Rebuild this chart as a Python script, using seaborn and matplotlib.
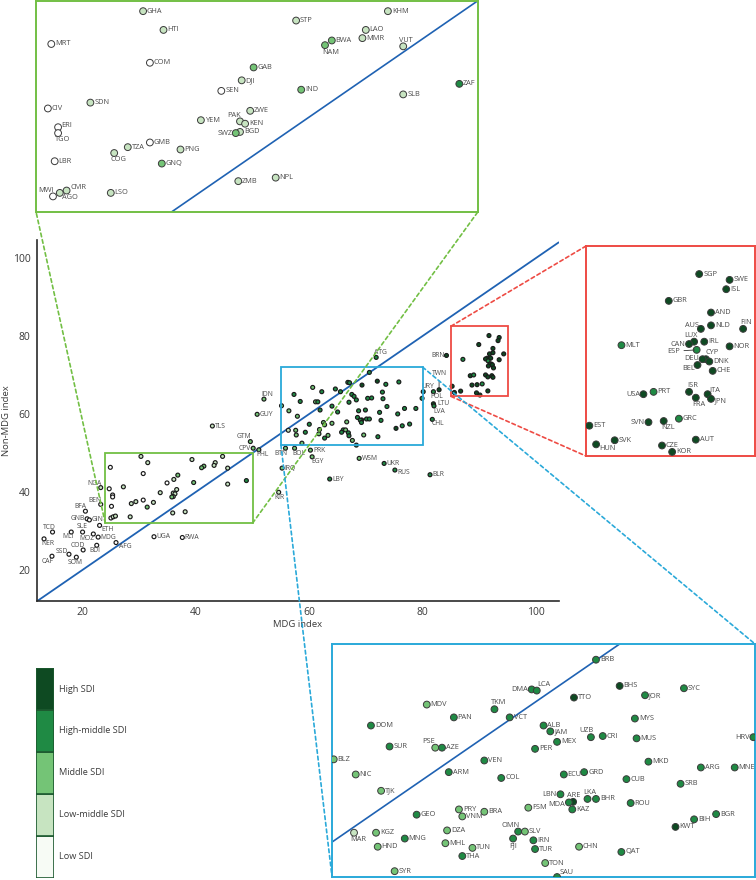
import matplotlib
matplotlib.use("Agg")
import matplotlib.pyplot as plt
import pandas as pd
import seaborn as sns
from matplotlib.patches import ConnectionPatch, Rectangle

# SDI quintiles, 0 = low ... 4 = high
sdi_levels = ["Low SDI", "Low-middle SDI", "Middle SDI", "High-middle SDI", "High SDI"]
sdi_colors = ["#ffffff", "#c7e4c1", "#74c476", "#1f8a44", "#0e4a22"]
legend_colors = ["#f7fbf5", "#c7e4c1", "#74c476", "#1f8a44", "#0e4a22"]

# countries zoomed in the green (top left) panel
green_codes = ["GHA", "HTI", "MRT", "COM", "STP", "LAO", "MMR", "BWA", "NAM", "GAB",
               "DJI", "SEN", "IND", "CIV", "SDN", "ZWE", "YEM", "PAK", "KEN", "BGD",
               "SWZ", "ERI", "TGO", "LBR", "TZA", "GMB", "COG", "PNG", "GNQ", "ZMB",
               "NPL", "MWI", "AGO", "CMR", "LSO", "KHM", "VUT", "ZAF", "SLB"]
green_mdg = [30.3, 31.5, 24.9, 30.7, 39.3, 43.4, 43.2, 41.4, 41.0, 36.8,
             36.1, 34.9, 39.6, 24.7, 27.2, 36.6, 33.7, 36.0, 36.3, 36.0,
             35.75, 25.3, 25.3, 25.1, 29.4, 30.7, 28.6, 32.5, 31.4, 35.9,
             38.1, 25.0, 25.4, 25.8, 28.4, 44.7, 45.6, 48.9, 45.6]
green_non = [49.1, 47.5, 46.3, 44.7, 48.3, 47.5, 46.8, 46.6, 46.2, 44.3,
             43.2, 42.3, 42.4, 40.8, 41.3, 40.6, 39.8, 39.7, 39.5, 38.8,
             38.7, 39.2, 38.7, 36.3, 37.5, 37.9, 37.0, 37.3, 36.1, 34.6,
             34.9, 33.3, 33.6, 33.8, 33.6, 49.1, 46.1, 42.9, 42.0]
green_sdi = [1, 1, 0, 0, 1, 1, 1, 2, 2, 2,
             1, 0, 2, 0, 1, 1, 1, 1, 1, 1,
             2, 0, 0, 0, 1, 0, 1, 1, 2, 1,
             1, 0, 1, 1, 1, 1, 1, 3, 1]

# countries zoomed in the red (right) panel
red_codes = ["SGP", "SWE", "ISL", "GBR", "AND", "AUS", "NLD", "FIN", "LUX", "IRL",
             "CAN", "MLT", "NOR", "ESP", "CYP", "DEU", "DNK", "BEL", "CHE", "USA",
             "PRT", "ISR", "ITA", "JPN", "FRA", "GRC", "NZL", "SVN", "EST", "SVK",
             "HUN", "AUT", "CZE", "KOR"]
red_mdg = [91.7, 93.5, 93.3, 89.9, 92.4, 91.8, 92.4, 94.3, 91.4, 92.0,
           91.1, 87.1, 93.5, 91.55, 92.1, 91.9, 92.3, 91.6, 92.5, 88.4,
           89.0, 91.1, 92.2, 92.4, 91.5, 90.5, 89.6, 88.7, 85.2, 86.7,
           85.6, 91.5, 89.5, 90.1]
red_non = [80.1, 79.6, 78.8, 77.8, 76.8, 75.4, 75.7, 75.4, 74.3, 74.3,
           74.1, 74.0, 73.9, 73.6, 72.8, 72.8, 72.6, 72.3, 71.8, 69.8,
           70.0, 70.0, 69.8, 69.4, 69.5, 67.7, 67.5, 67.4, 67.1, 65.85,
           65.5, 65.9, 65.4, 64.85]
red_sdi = [4, 4, 4, 4, 4, 4, 4, 4, 4, 4,
           4, 3, 4, 3, 4, 4, 4, 4, 4, 4,
           3, 4, 4, 4, 4, 3, 4, 4, 4, 4,
           4, 4, 4, 4]

# countries zoomed in the blue (bottom right) panel
blue_codes = ["BRB", "BHS", "SYC", "JOR", "TTO", "DMA", "LCA", "MDV", "TKM", "VCT",
              "PAN", "DOM", "MYS", "ALB", "JAM", "UZB", "CRI", "MUS", "MEX", "HRV",
              "SUR", "PSE", "AZE", "PER", "BLZ", "VEN", "MKD", "ARG", "MNE", "ARM",
              "NIC", "COL", "ECU", "GRD", "CUB", "SRB", "TJK", "LBN", "ARE", "MDA",
              "LKA", "BHR", "ROU", "KAZ", "FSM", "PRY", "BRA", "GEO", "VNM", "BIH",
              "BGR", "KWT", "MAR", "KGZ", "DZA", "OMN", "SLV", "MNG", "FJI", "IRN",
              "HND", "MHL", "TUN", "TUR", "CHN", "QAT", "THA", "TON", "SYR", "SAU"]
blue_mdg = [70.6, 72.0, 75.8, 73.5, 69.3, 66.8, 67.1, 60.6, 64.6, 65.5,
            62.2, 57.3, 72.9, 67.5, 67.9, 70.3, 71.0, 73.0, 68.3, 79.9,
            58.4, 61.1, 61.5, 67.0, 55.1, 64.0, 73.7, 76.8, 78.8, 61.9,
            56.4, 65.0, 68.7, 69.9, 72.4, 75.6, 57.9, 68.5, 69.25, 69.0,
            70.1, 70.6, 72.65, 69.2, 66.6, 62.5, 64.0, 60.0, 62.7, 76.4,
            77.7, 75.3, 56.3, 57.6, 61.8, 66.0, 66.4, 59.3, 65.7, 66.9,
            57.7, 61.7, 63.3, 67.0, 69.6, 72.1, 62.7, 67.6, 58.7, 68.3]
blue_non = [70.65, 68.4, 68.2, 67.6, 67.4, 68.1, 68.0, 66.8, 66.4, 65.7,
            65.7, 65.0, 65.6, 65.0, 64.5, 64.0, 64.1, 63.9, 63.6, 64.0,
            63.2, 63.1, 63.1, 63.0, 62.1, 62.0, 61.9, 61.4, 61.4, 61.0,
            60.8, 60.5, 60.8, 61.0, 60.4, 60.0, 59.4, 59.1, 58.45, 58.4,
            58.7, 58.7, 58.35, 57.8, 57.95, 57.8, 57.6, 57.35, 57.2, 56.95,
            57.4, 56.3, 55.8, 55.8, 56.0, 55.9, 55.9, 55.3, 55.3, 55.15,
            54.6, 54.9, 54.5, 54.4, 54.6, 54.15, 53.8, 53.2, 52.5, 52.0]
blue_sdi = [3, 4, 3, 3, 4, 3, 3, 2, 3, 3,
            3, 3, 3, 3, 3, 3, 3, 3, 3, 3,
            3, 2, 3, 3, 2, 3, 3, 3, 3, 3,
            2, 3, 3, 3, 3, 3, 2, 3, 4, 3,
            3, 3, 3, 3, 2, 2, 2, 3, 2, 3,
            3, 4, 1, 2, 2, 3, 2, 3, 3, 3,
            2, 2, 2, 3, 2, 3, 3, 2, 2, 3]

# countries labelled only in the main panel
main_codes = ["NGA", "BEN", "BFA", "GNB", "GIN", "ETH", "MDG", "MOZ", "SLE", "MLI",
              "TCD", "NER", "COD", "BDI", "SSD", "SOM", "CAF", "AFG", "UGA", "RWA",
              "TLS", "GTM", "CPV", "PHL", "IDN", "GUY", "BTN", "IRQ", "KIR", "BOL",
              "PRK", "EGY", "WSM", "UKR", "RUS", "LBY", "BLR", "ATG", "BRN", "TWN",
              "URY", "POL", "LTU", "LVA", "CHL"]
main_mdg = [23.2, 23.2, 20.5, 20.8, 21.2, 23.0, 22.75, 21.9, 20.0, 18.0,
            14.7, 13.2, 20.1, 22.5, 17.6, 18.9, 14.6, 25.9, 32.6, 37.6,
            42.9, 49.6, 50.1, 51.1, 52.0, 50.8, 55.8, 55.2, 54.6, 57.4,
            60.2, 60.5, 68.8, 73.2, 75.1, 63.6, 81.3, 71.8, 84.2, 82.9,
            80.1, 81.9, 81.9, 82.0, 81.7]
main_non = [41.1, 36.8, 35.05, 33.1, 32.8, 31.4, 28.4, 29.2, 29.7, 29.7,
            29.7, 27.95, 25.1, 26.3, 24.0, 23.25, 23.5, 27.0, 28.5, 28.3,
            56.9, 52.9, 51.2, 50.8, 63.8, 59.9, 51.2, 46.1, 39.9, 51.2,
            50.7, 49.0, 48.6, 47.3, 45.6, 43.3, 44.4, 74.5, 75.0, 66.2,
            65.7, 65.7, 62.6, 62.05, 58.6]
main_sdi = [1, 0, 0, 0, 0, 0, 0, 0, 0, 0,
            0, 0, 0, 0, 0, 0, 0, 0, 0, 0,
            1, 2, 2, 2, 2, 2, 2, 2, 1, 2,
            2, 2, 2, 3, 3, 3, 3, 3, 4, 4,
            3, 3, 4, 3, 3]

# zoom windows (x0, x1, y0, y1) in index units
green_win = (24, 50, 32, 50)
red_win = (85, 95, 64.5, 82.5)
blue_win = (55, 80, 52, 72)

GREEN = "#72bf44"
RED = "#ee4b44"
BLUE = "#2aa9d9"
DIAG = "#1f62b3"
LABEL = "#4a4a4a"


def frame(codes, xs, ys, sdi):
    return pd.DataFrame({"code": codes, "mdg": xs, "non": ys,
                         "sdi": [sdi_levels[i] for i in sdi]})


green_df = frame(green_codes, green_mdg, green_non, green_sdi)
red_df = frame(red_codes, red_mdg, red_non, red_sdi)
blue_df = frame(blue_codes, blue_mdg, blue_non, blue_sdi)
main_df = frame(main_codes, main_mdg, main_non, main_sdi)
all_df = pd.concat([main_df, green_df, blue_df, red_df], ignore_index=True)

palette = dict(zip(sdi_levels, sdi_colors))

# label spots: (dx, dy, ha, va) in points
main_spots = {
    "NGA": (0.5, 0.5, "right", "bottom"), "BEN": (0.5, 0.5, "right", "bottom"),
    "BFA": (0.5, 0.5, "right", "bottom"), "GNB": (-1.5, 0, "right", "center"),
    "ETH": (1, -0.5, "left", "top"), "MOZ": (0.5, -0.5, "right", "top"),
    "SLE": (0, 1.2, "center", "bottom"), "MLI": (-2.5, -0.8, "center", "top"),
    "TCD": (-2.5, 1, "center", "bottom"), "NER": (2.5, -1, "center", "top"),
    "COD": (-3.5, 0.5, "center", "bottom"), "BDI": (-1.2, -1, "center", "top"),
    "SSD": (-0.5, 2, "right", "center"), "SOM": (-1, -1, "center", "top"),
    "CAF": (-3.4, -1, "center", "top"), "AFG": (2, -3, "left", "center"),
    "RUS": (1.5, -1.5, "left", "center"), "IDN": (-2, 1, "left", "bottom"),
    "GTM": (1, 1, "right", "bottom"), "CPV": (-1.5, 0, "right", "center"),
    "PHL": (-2, -1, "left", "top"), "BTN": (-3, -1, "center", "top"),
    "KIR": (0.5, -1, "center", "top"), "BOL": (3.4, -1, "center", "top"),
    "EGY": (3.6, -1, "center", "top"), "ATG": (3.4, 1, "center", "bottom"),
    "BRN": (-1.5, 0, "right", "center"), "URY": (3.6, 1.5, "center", "bottom"),
    "POL": (2.4, -1, "center", "top"), "LVA": (3.6, -1.5, "center", "top"),
    "CHL": (3.9, -0.5, "center", "top"), "LTU": (3, 0, "left", "center"),
    "TWN": (0, 9, "center", "bottom"),
}
green_spots = {
    "ERI": (2.5, 1.2, "left", "center"), "TGO": (3.6, -2, "center", "top"),
    "COG": (3, -2.5, "center", "top"), "NAM": (4, -2.5, "center", "top"),
    "PAK": (-4, 2, "center", "bottom"), "SWZ": (-2.5, -0.5, "right", "center"),
    "MWI": (-5, 2, "center", "bottom"), "AGO": (1.5, -3.3, "left", "center"),
    "CMR": (2.5, 2, "left", "center"), "VUT": (2, 2, "center", "bottom"),
}
red_spots = {
    "AUS": (-1.5, 2.7, "right", "center"), "LUX": (-2.6, 2, "center", "bottom"),
    "CAN": (-2.5, 0, "right", "center"), "DEU": (-2.5, 0.5, "right", "center"),
    "CYP": (4.3, 2, "center", "bottom"), "BEL": (-2, -2.4, "right", "center"),
    "FIN": (2, 2, "center", "bottom"), "USA": (-2.5, 0, "right", "center"),
    "ISR": (2.4, 2, "center", "bottom"), "ITA": (1, 2.9, "left", "center"),
    "FRA": (2.2, -2.5, "center", "top"), "JPN": (2.5, -1.7, "left", "center"),
    "SVN": (-2.5, 0, "right", "center"), "NZL": (2.9, -2.5, "center", "top"),
    "HUN": (2.5, -2.7, "left", "center"), "ESP": (-12, -1, "right", "center"),
}
blue_spots = {
    "DMA": (-2.5, 0, "right", "center"), "LCA": (0.7, 4.3, "left", "center"),
    "TKM": (3, 2, "center", "bottom"), "UZB": (-3, 2, "center", "bottom"),
    "PSE": (-5, 2, "center", "bottom"), "HRV": (-2.5, 0, "right", "center"),
    "LBN": (-2.5, 0, "right", "center"), "ARE": (0.5, 2.2, "center", "bottom"),
    "MDA": (-2.5, -1.5, "right", "center"), "LKA": (1.5, 2.3, "center", "bottom"),
    "OMN": (-5.5, 2, "center", "bottom"), "FJI": (0, -2.5, "center", "top"),
    "MAR": (3, -2.5, "center", "top"), "SAU": (1.5, 3.4, "left", "center"),
}
leaders = ["ESP", "TWN"]

sns.set_style("white")
plt.rcParams["font.family"] = ["Open Sans", "DejaVu Sans"]

fig = plt.figure(figsize=(7.56, 8.8), dpi=100)


def put_labels(ax, df, spots, default, size):
    for code, x, y in zip(df["code"], df["mdg"], df["non"]):
        dx, dy, ha, va = spots.get(code, default)
        arrow = None
        if code in leaders:
            arrow = dict(arrowstyle="-", color="#333333", lw=0.6, shrinkA=0.5, shrinkB=1.5)
        ax.annotate(code, (x, y), xytext=(dx, dy), textcoords="offset points",
                    ha=ha, va=va, fontsize=size, color=LABEL, arrowprops=arrow)


# main panel
ax = fig.add_axes([0.0485, 0.317, 0.6905, 0.4102])
ax.axline((0, 0), slope=1, color=DIAG, lw=1.3, zorder=1)
sns.scatterplot(data=all_df, x="mdg", y="non", hue="sdi", hue_order=sdi_levels,
                palette=palette, s=8, edgecolor="#1a1a1a", linewidth=0.85,
                legend=False, ax=ax, zorder=3)
put_labels(ax, main_df, main_spots, (1.8, 0, "left", "center"), 4.9)
ax.set_xlim(11.9, 104)
ax.set_ylim(12, 104.6)
ax.set_xticks([20, 40, 60, 80, 100])
ax.set_yticks([20, 40, 60, 80, 100])
for s in ["top", "right"]:
    ax.spines[s].set_visible(False)
for s in ["left", "bottom"]:
    ax.spines[s].set_color("#2b2b2b")
    ax.spines[s].set_linewidth(1.2)
ax.tick_params(direction="out", length=3, width=1, color="#2b2b2b",
               labelsize=7.5, labelcolor="#3a3a3a", pad=1.5)
ax.set_xlabel("MDG index", fontsize=6.8, color="#3a3a3a", labelpad=1)
ax.set_ylabel("Non-MDG index", fontsize=6.8, color="#3a3a3a", labelpad=1.5)

insets = [
    (green_df, green_win, GREEN, green_spots, [0.0476, 0.7595, 0.5847, 0.2398]),
    (red_df, red_win, RED, red_spots, [0.7751, 0.4818, 0.2235, 0.2386]),
    (blue_df, blue_win, BLUE, blue_spots, [0.4392, 0.0034, 0.5595, 0.2648]),
]
inset_axes = []
for df, win, col, spots, pos in insets:
    x0, x1, y0, y1 = win
    ax.add_patch(Rectangle((x0, y0), x1 - x0, y1 - y0, fill=False,
                           edgecolor=col, lw=1.3, zorder=4))
    iax = fig.add_axes(pos)
    iax.axline((0, 0), slope=1, color=DIAG, lw=1.2, zorder=1)
    sns.scatterplot(data=df, x="mdg", y="non", hue="sdi", hue_order=sdi_levels,
                    palette=palette, s=24, edgecolor="#3a3a3a", linewidth=0.7,
                    legend=False, ax=iax, zorder=3)
    put_labels(iax, df, spots, (2.8, 0, "left", "center"), 5.3)
    iax.set_xlim(x0, x1)
    iax.set_ylim(y0, y1)
    iax.set_xticks([])
    iax.set_yticks([])
    iax.set_xlabel("")
    iax.set_ylabel("")
    for s in iax.spines.values():
        s.set_visible(True)
        s.set_color(col)
        s.set_linewidth(1.4)
    inset_axes.append(iax)

gax, rax, bax = inset_axes
links = [
    ((green_win[0], green_win[2]), gax, (0, 0), GREEN),
    ((green_win[1], green_win[2]), gax, (1, 0), GREEN),
    ((red_win[0], red_win[3]), rax, (0, 1), RED),
    ((red_win[0], red_win[2]), rax, (0, 0), RED),
    ((blue_win[1], blue_win[3]), bax, (1, 1), BLUE),
    ((blue_win[0], blue_win[2]), bax, (0, 0), BLUE),
]
for xy_a, tax, xy_b, col in links:
    con = ConnectionPatch(xyA=xy_a, coordsA=ax.transData, xyB=xy_b,
                          coordsB=tax.transAxes, color=col, lw=1.2,
                          ls=(0, (2.2, 1.8)))
    fig.add_artist(con)

# SDI legend
lax = fig.add_axes([0.0476, 0.0023, 0.0238, 0.2386])
for i, (lvl, col) in enumerate(zip(sdi_levels, legend_colors)):
    lax.bar(0, 1, bottom=i, width=1, color=col, edgecolor="#1d5a30", linewidth=1.2)
    lax.text(0.76, i + 0.5, lvl, fontsize=6.6, color="#3a3a3a", va="center",
             ha="left", clip_on=False)
lax.set_xlim(-0.5, 0.5)
lax.set_ylim(0, 5)
lax.axis("off")

fig.savefig("out.png", dpi=100)
